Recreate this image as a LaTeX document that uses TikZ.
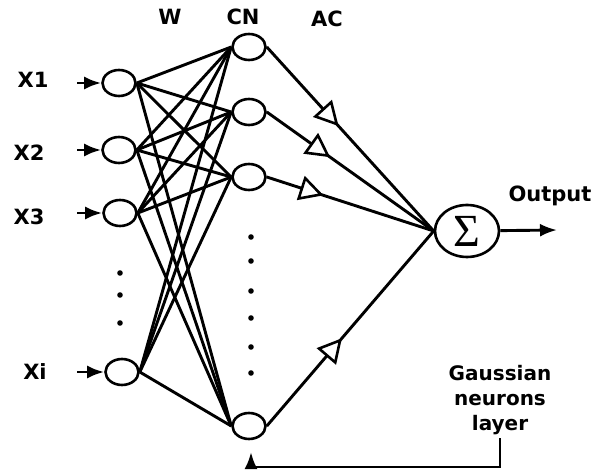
\documentclass[tikz,border=0pt]{standalone}
\usepackage{fontspec}
\setmainfont{DejaVu Sans}
\newfontfamily\sigmafont{Liberation Serif}
\usetikzlibrary{arrows.meta,positioning,shapes.geometric,decorations.markings}

\begin{document}
\begin{tikzpicture}[
        x=1pt, y=-1pt,
        font=\fontsize{21}{25}\selectfont\bfseries,
        neuron/.style={ellipse, draw=black, line width=2.6pt, minimum width=33pt, minimum height=26pt, inner sep=0pt},
        link/.style={line width=2.9pt},
        arrow/.style={-{Latex[length=17pt,width=13pt]}, line width=2.9pt},
        acw/.style={line width=2.9pt, postaction={decorate},
            decoration={markings, mark=at position #1 with {\arrow{Triangle[fill=white,length=24pt,width=25pt,line width=2.6pt]}}}}
    ]
        \useasboundingbox (0,0) rectangle (594,470);

        % input layer
        \node[neuron] (in1) at (119,83) {};
        \node[neuron] (in2) at (119,150) {};
        \node[neuron] (in3) at (120,213) {};
        \node[neuron] (in4) at (122,372) {};
        \node (x1) at (33,80) {X1};
        \node (x2) at (29,153) {X2};
        \node (x3) at (29,217) {X3};
        \node (xi) at (35,372) {Xi};

        % CN layer
        \node[neuron] (cn1) at (249,47) {};
        \node[neuron] (cn2) at (249,112) {};
        \node[neuron] (cn3) at (249,177) {};
        \node[neuron] (cn4) at (249,426) {};

        \node[ellipse, draw=black, line width=2.6pt, minimum width=64pt, minimum height=52pt, inner sep=0pt, font=\fontsize{46}{46}\sigmafont] (sum) at (467,231) {Σ};

        \node (w) at (170,17) {W};
        \node (cn) at (243,17) {CN};
        \node (ac) at (327,19) {AC};
        \node (out) at (550,196) {Output};
        \node[align=center, font=\fontsize{20}{25}\selectfont\bfseries] (gauss) at (500,400) {Gaussian\\neurons\\layer};

        \coordinate (a1) at (77,83);
        \coordinate (a2) at (77,150);
        \coordinate (a3) at (77,213);
        \coordinate (a4) at (77,372);
        \coordinate (o) at (557,230);
        \coordinate (fb) at (251,452);

        % dots
        \foreach \y in {273,295,323} \fill (120,\y) circle (2.8);
        \foreach \y in {237,261,291,318,347,373} \fill (251,\y) circle (2.8);

        \foreach \i in {1,...,4} {
            \draw[arrow] (a\i) -- (in\i);
            \foreach \j in {1,...,4}
                \draw[link] (in\i.east) -- (cn\j.west);
        }

        \draw[acw=0.43] (cn1.east) -- (sum.west);
        \draw[acw=0.38] (cn2.east) -- (sum.west);
        \draw[acw=0.34] (cn3.east) -- (sum.west);
        \draw[acw=0.45] (cn4.east) -- (sum.west);

        \draw[arrow] (sum) -- (o);
        \draw[arrow] (gauss.south) |- (251,467) -- (fb);
    \end{tikzpicture}
\end{document}
